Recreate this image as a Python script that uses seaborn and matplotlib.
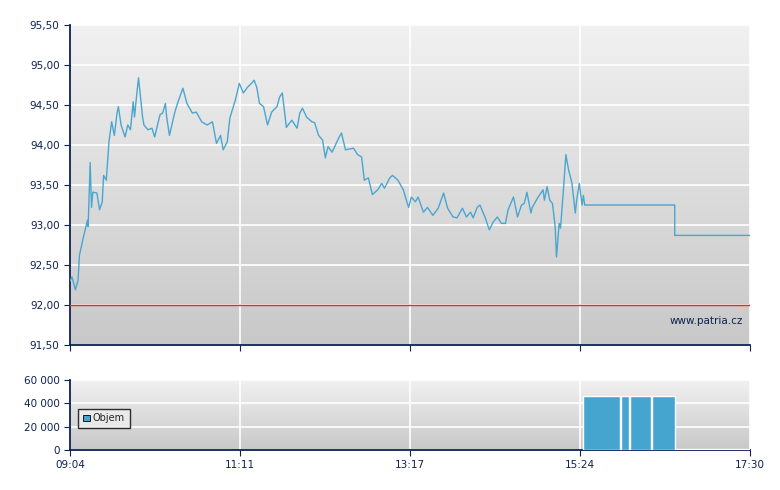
import numpy as np
import matplotlib
matplotlib.use("Agg")
import matplotlib.pyplot as plt
import seaborn as sns
from matplotlib.ticker import FuncFormatter

sns.set_style("white")
plt.rcParams["font.family"] = ["DejaVu Sans"]

# minutes after 09:04 and price
minutes = [0, 1.5, 4, 6, 7, 10, 13, 13.5, 15, 16, 17, 20, 22, 24, 25, 27, 29, 31, 33, 35, 36, 38, 41, 43, 45,
           47, 48, 50, 51, 54, 55, 58, 61, 63, 67, 69, 71, 72, 74, 78, 80, 84, 87, 91, 94, 98, 102, 106, 109,
           112, 114, 117, 119, 123, 126, 129, 132, 135, 137, 139, 141, 144, 147, 150, 154, 156, 158, 161, 165,
           169, 171, 173, 176, 180, 182, 185, 188, 190, 192, 195, 197, 200, 202, 205, 211, 214, 217, 219, 222,
           225, 229, 232, 234, 238, 240, 244, 248, 251, 252, 254, 257, 259, 263, 266, 270, 274, 278, 281, 285,
           288, 292, 295, 298, 300, 303, 305, 309, 312, 315, 318, 321, 324, 326, 330, 333, 336, 338, 340, 343,
           344, 348, 352, 353, 355, 357, 359, 361, 362, 364, 365, 367, 369, 371, 373, 373.5, 376, 377, 379,
           381, 382, 383, 450, 450, 506]
price = [92.30, 92.35, 92.19, 92.31, 92.62, 92.85, 93.06, 92.98, 93.78, 93.22, 93.41, 93.40, 93.19, 93.29,
         93.62, 93.56, 94.04, 94.29, 94.12, 94.40, 94.48, 94.25, 94.10, 94.25, 94.19, 94.54, 94.35, 94.69,
         94.84, 94.35, 94.25, 94.19, 94.21, 94.10, 94.38, 94.40, 94.52, 94.34, 94.12, 94.41, 94.52, 94.71,
         94.52, 94.40, 94.41, 94.29, 94.25, 94.29, 94.02, 94.12, 93.94, 94.04, 94.34, 94.56, 94.77, 94.65,
         94.72, 94.77, 94.81, 94.72, 94.52, 94.48, 94.25, 94.41, 94.48, 94.60, 94.65, 94.22, 94.31, 94.21,
         94.40, 94.46, 94.35, 94.29, 94.28, 94.12, 94.06, 93.84, 93.98, 93.91, 93.98, 94.09, 94.15, 93.94,
         93.96, 93.88, 93.85, 93.56, 93.59, 93.38, 93.44, 93.52, 93.46, 93.59, 93.62, 93.56, 93.44, 93.27,
         93.22, 93.35, 93.29, 93.35, 93.16, 93.22, 93.12, 93.21, 93.40, 93.21, 93.10, 93.09, 93.21, 93.10,
         93.16, 93.09, 93.22, 93.25, 93.09, 92.94, 93.04, 93.10, 93.02, 93.02, 93.19, 93.35, 93.10, 93.25,
         93.27, 93.41, 93.15, 93.22, 93.34, 93.44, 93.31, 93.48, 93.31, 93.27, 92.98, 92.60, 93.02, 92.96,
         93.40, 93.88, 93.69, 93.56, 93.52, 93.15, 93.31, 93.52, 93.25, 93.37, 93.25, 93.25, 92.87, 92.87]

vol_start = [382, 410, 417, 433, 450, 461, 475, 487]
vol_width = [27, 6, 15, 17, 11, 14, 12, 19]
vol_value = [46000, 46000, 46000, 46000, 600, 600, 600, 600]

tick_pos = [0, 126.5, 253, 379.5, 506]
tick_labels = ["09:04", "11:11", "13:17", "15:24", "17:30"]
ref_price = 92.0

navy = "#0b2255"
blue = "#4aa6d0"

fig = plt.figure(figsize=(7.8, 4.9), dpi=100)
ax = fig.add_axes([70 / 780, 1 - 345 / 490, 680 / 780, 320 / 490])
axv = fig.add_axes([70 / 780, 40 / 490, 680 / 780, 70 / 490])


def style(a):
    grad = np.linspace(0, 1, 256).reshape(-1, 1)
    a.imshow(grad, extent=[0, 1, 0, 1], transform=a.transAxes, aspect="auto",
             cmap=matplotlib.colors.LinearSegmentedColormap.from_list("g", ["#f1f1f1", "#c8c8c8"]),
             zorder=0)
    a.grid(True, color="white", lw=1.2, zorder=1)
    for s in ["top", "right"]:
        a.spines[s].set_visible(False)
    for s in ["left", "bottom"]:
        a.spines[s].set_color(navy)
        a.spines[s].set_linewidth(1.3)
    a.tick_params(direction="out", length=4, color=navy, labelsize=7.5, labelcolor=navy,
                  left=True, bottom=True)
    a.set_xlim(0, 506)
    a.set_xticks(tick_pos)
    a.set_axisbelow(True)


style(ax)
sns.lineplot(x=minutes, y=price, ax=ax, color=blue, lw=1, zorder=3, estimator=None, sort=False)
ax.axhline(ref_price, color="#ff2020", lw=1.0, zorder=4)
ax.set_ylim(91.5, 95.5)
ax.set_yticks(np.arange(91.5, 95.51, 0.5))
ax.yaxis.set_major_formatter(FuncFormatter(lambda v, p: f"{v:.2f}".replace(".", ",")))
ax.set_xticklabels([])
ax.text(0.99, 0.06, "www.patria.cz", transform=ax.transAxes, ha="right", va="bottom",
        fontsize=7.5, color=navy)

style(axv)
axv.bar(vol_start, vol_value, width=vol_width, align="edge", color="#45a5cf", zorder=3, label="Objem")
axv.set_ylim(0, 60000)
axv.set_yticks([0, 20000, 40000, 60000])
axv.yaxis.set_major_formatter(FuncFormatter(lambda v, p: f"{int(v):,}".replace(",", " ")))
axv.set_xticklabels(tick_labels)
leg = axv.legend(loc="lower left", bbox_to_anchor=(0.005, 0.24), fontsize=7, frameon=True, fancybox=False,
                 handlelength=0.7, handleheight=0.7, borderpad=0.5, handletextpad=0.3)
leg.get_frame().set_edgecolor("black")
leg.get_frame().set_facecolor("#eeeeee")
for p in leg.get_patches():
    p.set_edgecolor("black")
    p.set_linewidth(0.6)

fig.savefig("out.png", dpi=100)
